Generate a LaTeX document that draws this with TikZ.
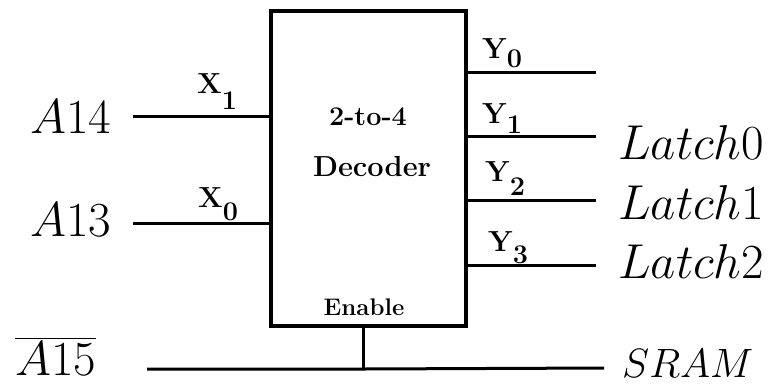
\RequirePackage{fix-cm}
\documentclass[tikz,border=0pt]{standalone}
\usepackage{amsmath}
\usepackage{tikz}
\usetikzlibrary{positioning}

\newcommand{\pinlabel}[3]{#1{\fontsize{27}{27}\selectfont\raisebox{-#3pt}{#2}}}

\tikzset{
    sig/.style={font=\fontsize{49}{49}\selectfont, inner sep=0pt},
    pin/.style={font=\fontsize{29}{29}\selectfont\bfseries, inner sep=0pt},
    wire/.style={line width=3pt},
}

\begin{document}
\begin{tikzpicture}[x=1pt, y=-1pt]
    \useasboundingbox (0,0) rectangle (770,384);

    \node[draw, line width=3.5pt, minimum width=195pt, minimum height=315pt, inner sep=0pt] (dec) at (368.5,168.5) {};
    \node[pin, font=\fontsize{27}{27}\selectfont\bfseries] (title) at (368,117) {2-to-4};
    \node[pin] (name) at (372,167) {Decoder};
    \node[pin, font=\fontsize{24}{24}\selectfont\bfseries] (en) at (364,307) {Enable};

    \node[sig, anchor=base west] (a14) at (30,133) {\(A14\)};
    \node[sig, anchor=base west] (a13) at (30,236) {\(A13\)};
    \node[sig, anchor=base west] (a15) at (15,375) {\(\overline{A15}\)};
    \node[sig, anchor=base west] (l0) at (618,159) {\(Latch0\)};
    \node[sig, anchor=base west] (l1) at (618,219) {\(Latch1\)};
    \node[sig, anchor=base west] (l2) at (618,278) {\(Latch2\)};
    \node[sig, anchor=base west, font=\fontsize{41}{41}\selectfont] (sram) at (622,377) {\(SRAM\)};

    \coordinate (in1) at (133,116);
    \coordinate (in0) at (133,223);
    \coordinate (in2) at (147,369);
    \coordinate (y0) at (596,72);
    \coordinate (y1) at (596,136);
    \coordinate (y2) at (596,200);
    \coordinate (y3) at (596,265);
    \coordinate (out) at (604,368);
    \coordinate (tap) at (363,369);

    \draw[wire] (in1) -- (in1 -| dec.west);
    \draw[wire] (in0) -- (in0 -| dec.west);
    \draw[wire] (dec.east |- y0) -- (y0);
    \draw[wire] (dec.east |- y1) -- (y1);
    \draw[wire] (dec.east |- y2) -- (y2);
    \draw[wire] (dec.east |- y3) -- (y3);
    \draw[wire] (in2) -- (tap) -- (out);
    \draw[wire] (tap) -- (tap |- dec.south);

    \node[pin, anchor=base west] (x1) at (197,93) {\pinlabel{X}{1}{16}};
    \node[pin, anchor=base west] (x0) at (198,207) {\pinlabel{X}{0}{13}};
    \node[pin, anchor=base west] (yy0) at (482,58) {\pinlabel{Y}{0}{9}};
    \node[pin, anchor=base west] (yy1) at (482,123) {\pinlabel{Y}{1}{10}};
    \node[pin, anchor=base west] (yy2) at (485,181) {\pinlabel{Y}{2}{14}};
    \node[pin, anchor=base west] (yy3) at (488,251) {\pinlabel{Y}{3}{12}};
\end{tikzpicture}
\end{document}
